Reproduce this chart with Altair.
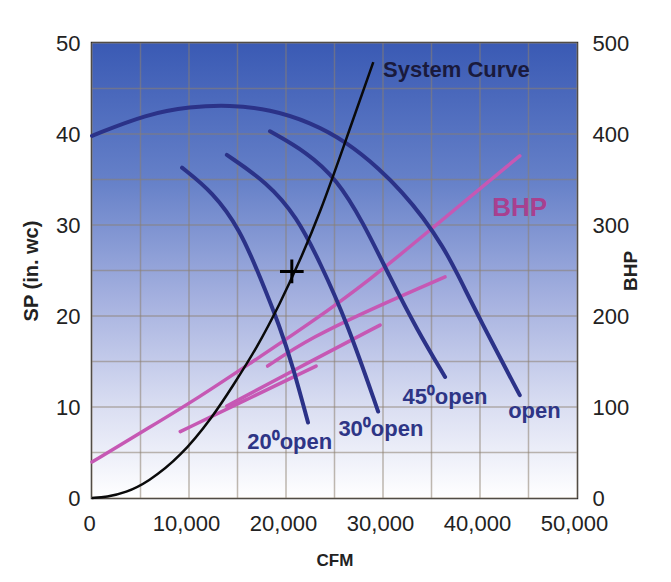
import altair as alt
import pandas as pd

# ---------------- data ----------------
# Fan static-pressure curves: CFM vs SP (in. wc)
open_cfm = [0, 5700, 10100, 14200, 18350, 22500, 26300, 29700, 32000, 34100, 36200, 37600, 40000, 44100]
open_sp = [39.8, 42.2, 43.0, 43.2, 42.7, 41.3, 39.1, 36.1, 33.6, 30.9, 27.6, 24.8, 19.6, 11.3]

v45_cfm = [18350, 22160, 25260, 27900, 30700, 33500, 36400]
v45_sp = [40.3, 38.0, 35.0, 30.4, 24.3, 18.5, 13.3]

v30_cfm = [13900, 18040, 21130, 23500, 26300, 29500]
v30_sp = [37.7, 34.7, 30.9, 25.9, 19.3, 9.5]

v20_cfm = [9280, 12470, 15260, 17320, 19380, 20720, 22270]
v20_sp = [36.3, 33.6, 29.5, 24.3, 18.8, 14.4, 8.3]

# System curve
sys_cfm = [0, 1500, 3500, 5700, 9100, 12500, 14500, 17000, 19400, 21400, 23500, 25900, 29000]
sys_sp = [0.0, 0.1, 0.6, 1.7, 4.5, 9.0, 12.3, 16.5, 21.4, 26.0, 31.3, 38.5, 47.9]

# Operating point
op_cfm = [20600]
op_sp = [24.9]

# BHP curves (right axis)
bhp_open_cfm = [0, 6000, 11100, 16300, 22500, 28700, 34900, 44100]
bhp_open = [39.6, 78, 111, 148, 192, 240, 295, 376]
bhp45_cfm = [18100, 22500, 29700, 36400]
bhp45 = [145, 176, 212, 243]
bhp30_cfm = [13900, 22500, 29700]
bhp30 = [101, 150, 190]
bhp20_cfm = [9100, 16300, 23100]
bhp20 = [73, 110, 145]

# Grid / ticks
grid_cfm = [0, 5000, 10000, 15000, 20000, 25000, 30000, 35000, 40000, 45000, 50000]
grid_sp = [0, 5, 10, 15, 20, 25, 30, 35, 40, 45, 50]
cfm_ticks = [0, 10000, 20000, 30000, 40000, 50000]
sp_ticks = [0, 10, 20, 30, 40, 50]
bhp_ticks = [0, 100, 200, 300, 400, 500]

# Labels (anchored in data units)
curve_label_text = ["20\u2070open", "30\u2070open", "45\u2070open", "open"]
curve_label_cfm = [16000, 25400, 32000, 42900]
curve_label_sp = [6.1, 7.6, 11.1, 9.6]
sys_label = ["System Curve"]
sys_label_cfm = [30000]
sys_label_sp = [47.0]
bhp_label = ["BHP"]
bhp_label_cfm = [44100]
bhp_label_sp = [31.9]

# ---------------- frames ----------------
def frame(name, xs, ys):
    return pd.DataFrame({"cfm": xs, "val": ys, "series": name})

sp_df = pd.concat([
    frame("open", open_cfm, open_sp),
    frame("45", v45_cfm, v45_sp),
    frame("30", v30_cfm, v30_sp),
    frame("20", v20_cfm, v20_sp),
])
sys_df = frame("system", sys_cfm, sys_sp)
op_df = frame("op", op_cfm, op_sp)
bhp_df = pd.concat([
    frame("open", bhp_open_cfm, bhp_open),
    frame("45", bhp45_cfm, bhp45),
    frame("30", bhp30_cfm, bhp30),
    frame("20", bhp20_cfm, bhp20),
])
bg_df = pd.DataFrame({"x0": [grid_cfm[0]], "x1": [grid_cfm[-1]], "y0": [grid_sp[0]], "y1": [grid_sp[-1]]})
vgrid_df = pd.DataFrame({"cfm": grid_cfm})
hgrid_df = pd.DataFrame({"sp": grid_sp})
clab_df = pd.DataFrame({"cfm": curve_label_cfm, "sp": curve_label_sp, "t": curve_label_text})
slab_df = pd.DataFrame({"cfm": sys_label_cfm, "sp": sys_label_sp, "t": sys_label})
blab_df = pd.DataFrame({"cfm": bhp_label_cfm, "sp": bhp_label_sp, "t": bhp_label})

# ---------------- scales / styles ----------------
FONT = "Liberation Sans"
W, H = 485, 455
xs = alt.Scale(domain=[0, 50000], nice=False, zero=False)
ys = alt.Scale(domain=[0, 50], nice=False, zero=False)
bs = alt.Scale(domain=[0, 500], nice=False, zero=False)

BLUE = "#2b3288"
PINK = "#c658b4"
GRID = "#8c8070"

gradient = alt.Gradient(
    gradient="linear", x1=0, x2=0, y1=0, y2=1,
    stops=[
        alt.GradientStop(color="#3a5ab4", offset=0.0),
        alt.GradientStop(color="#6580c8", offset=0.3),
        alt.GradientStop(color="#a4b0df", offset=0.56),
        alt.GradientStop(color="#dadef2", offset=0.8),
        alt.GradientStop(color="#ffffff", offset=1.0),
    ],
)

x_axis = alt.Axis(
    values=cfm_ticks, labelExpr="format(datum.value, ',')", grid=False, domain=False, ticks=False,
    labelOverlap=False, labelFlush=False, labelOffset=-3,
    labelFontSize=22, labelPadding=15, labelColor="#222", labelFont=FONT,
    title="CFM", titleFontSize=17, titleFont=FONT, titleFontWeight="bold",
    titleColor="#222", titlePadding=18,
)
y_axis = alt.Axis(
    values=sp_ticks, grid=False, domain=False, ticks=False, orient="left",
    labelOverlap=False, labelFlush=False,
    labelFontSize=22, labelPadding=12, labelColor="#222", labelFont=FONT,
    title="SP (in. wc)", titleFontSize=20, titleFont=FONT, titleFontWeight="bold",
    titleColor="#222", titlePadding=14,
)
b_axis = alt.Axis(
    values=bhp_ticks, grid=False, domain=False, ticks=False, orient="right",
    labelOverlap=False, labelFlush=False,
    labelFontSize=22, labelPadding=15, labelColor="#222", labelFont=FONT,
    title="BHP", titleFontSize=19, titleFont=FONT, titleFontWeight="bold",
    titleColor="#222", titlePadding=12, titleAngle=270,
)

X = lambda f: alt.X(f, scale=xs, axis=x_axis)

bg = alt.Chart(bg_df).mark_rect(fill=gradient, stroke=None).encode(
    x=X("x0:Q"),
    x2="x1:Q",
    y=alt.Y("y0:Q", scale=ys, axis=y_axis),
    y2="y1:Q",
)

vgrid = alt.Chart(vgrid_df).mark_rule(color=GRID, strokeWidth=1.5, opacity=0.55).encode(
    x=X("cfm:Q")
)
hgrid = alt.Chart(hgrid_df).mark_rule(color=GRID, strokeWidth=1.5, opacity=0.55).encode(
    y=alt.Y("sp:Q", scale=ys, axis=None)
)

bhp_lines = alt.Chart(bhp_df).mark_line(color=PINK, strokeWidth=3.5, interpolate="basis", strokeCap="round").encode(
    x=X("cfm:Q"),
    y=alt.Y("val:Q", scale=bs, axis=b_axis),
    detail="series:N",
)

sp_lines = alt.Chart(sp_df).mark_line(color=BLUE, strokeWidth=4, interpolate="basis", strokeCap="round").encode(
    x=X("cfm:Q"),
    y=alt.Y("val:Q", scale=ys, axis=None),
    detail="series:N",
)

sys_line = alt.Chart(sys_df).mark_line(color="#0a0a0a", strokeWidth=2.5, interpolate="basis").encode(
    x=X("cfm:Q"),
    y=alt.Y("val:Q", scale=ys, axis=None),
)

op_mark = alt.Chart(op_df).mark_point(
    shape="M-1,0L1,0M0,-1L0,1", size=560, stroke="#000", strokeWidth=3, filled=False, opacity=1
).encode(
    x=X("cfm:Q"),
    y=alt.Y("val:Q", scale=ys, axis=None),
)

clab = alt.Chart(clab_df).mark_text(
    align="left", baseline="middle", font=FONT, fontSize=22, fontWeight="bold", color="#2e3586"
).encode(
    x=X("cfm:Q"),
    y=alt.Y("sp:Q", scale=ys, axis=None),
    text="t:N",
)
slab = alt.Chart(slab_df).mark_text(
    align="left", baseline="middle", font=FONT, fontSize=22, fontWeight="bold", color="#1a1a3c"
).encode(
    x=X("cfm:Q"),
    y=alt.Y("sp:Q", scale=ys, axis=None),
    text="t:N",
)
blab = alt.Chart(blab_df).mark_text(
    align="center", baseline="middle", font=FONT, fontSize=26, fontWeight="bold", color="#a8408f"
).encode(
    x=X("cfm:Q"),
    y=alt.Y("sp:Q", scale=ys, axis=None),
    text="t:N",
)

chart = alt.layer(
    bg, vgrid, hgrid, bhp_lines, sp_lines, sys_line, op_mark, clab, slab, blab
).resolve_scale(y="independent").properties(
    width=W, height=H,
    autosize=alt.AutoSizeParams(type="none"),
    padding={"left": 84, "top": 35, "right": 86, "bottom": 76},
    background="#ffffff",
).configure_view(
    stroke="#2a2a2a", strokeWidth=2.5
)

chart.save("out.html", embed_options={"renderer": "svg", "actions": False})
